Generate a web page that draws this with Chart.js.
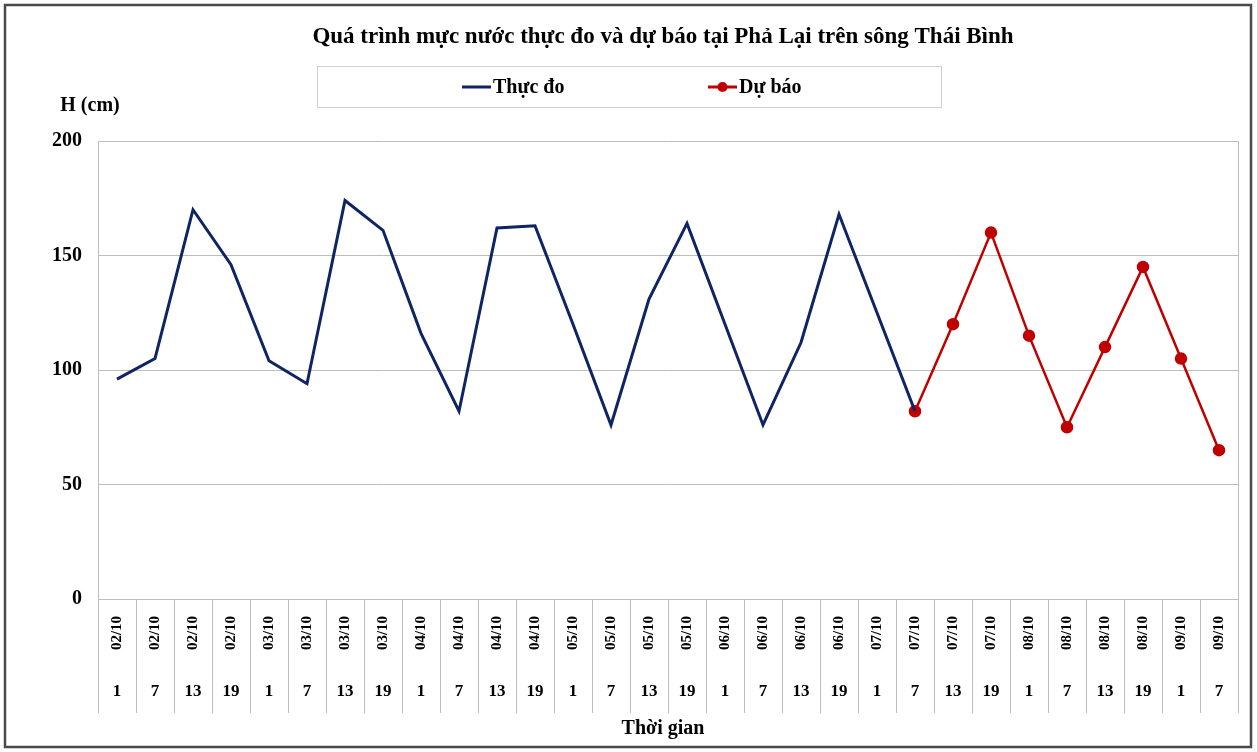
<!DOCTYPE html>
<html>
<head>
<meta charset="utf-8">
<script src="https://cdn.jsdelivr.net/npm/chart.js@4"></script>
<style>
  body { margin: 0; background: #fff; }
  canvas { display: block; }
</style>
</head>
<body>
<canvas id="chart" width="1257" height="752"></canvas>
<script>
// ========== DATA ==========
const dates = ['02/10','02/10','02/10','02/10','03/10','03/10','03/10','03/10',
               '04/10','04/10','04/10','04/10','05/10','05/10','05/10','05/10',
               '06/10','06/10','06/10','06/10','07/10','07/10','07/10','07/10',
               '08/10','08/10','08/10','08/10','09/10','09/10'];
const hours = ['1','7','13','19','1','7','13','19','1','7','13','19','1','7','13','19',
               '1','7','13','19','1','7','13','19','1','7','13','19','1','7'];
const thucDo = [96, 105, 170, 146, 104, 94, 174, 161, 116, 82, 162, 163,
                120, 76, 131, 164, 120, 76, 112, 168, 125, 82,
                null, null, null, null, null, null, null, null];
const duBao = [null, null, null, null, null, null, null, null, null, null, null,
               null, null, null, null, null, null, null, null, null, null,
               82, 120, 160, 115, 75, 110, 145, 105, 65];
const yTicks = [0, 50, 100, 150, 200];

const TITLE = 'Quá trình mực nước thực đo và dự báo tại Phả Lại trên sông Thái Bình';
const Y_TITLE = 'H (cm)';
const X_TITLE = 'Thời gian';

const SERIF = '"Liberation Serif", "Times New Roman", serif';
const NAVY = '#0f2463';
const RED = '#c00000';

// ========== PLUGIN: khung, tiêu đề, chú giải, nhãn trục X ==========
const decorPlugin = {
    id: 'decor',
    afterDraw(chart) {
        const ctx = chart.ctx;
        const area = chart.chartArea;
        const x = chart.scales.x;
        ctx.save();

        // khung ngoài
        ctx.strokeStyle = '#4a4a4a';
        ctx.lineWidth = 2.5;
        ctx.strokeRect(5, 5, 1246, 742);

        // viền phải vùng vẽ
        ctx.strokeStyle = '#bdbdbd';
        ctx.lineWidth = 1;
        ctx.beginPath();
        ctx.moveTo(area.right + 0.5, area.top);
        ctx.lineTo(area.right + 0.5, area.bottom);
        ctx.stroke();

        // tiêu đề
        ctx.fillStyle = '#000';
        ctx.textAlign = 'center';
        ctx.textBaseline = 'middle';
        ctx.font = 'bold 23px ' + SERIF;
        ctx.fillText(TITLE, 663, 37);

        // hộp chú giải
        ctx.strokeStyle = '#d0d0d0';
        ctx.lineWidth = 1;
        ctx.strokeRect(317.5, 66.5, 624, 41);
        ctx.font = 'bold 20px ' + SERIF;
        ctx.textAlign = 'left';
        const items = [
            { x: 462, ds: chart.data.datasets[0] },
            { x: 708, ds: chart.data.datasets[1] }
        ];
        items.forEach(it => {
            ctx.strokeStyle = it.ds.borderColor;
            ctx.lineWidth = 3;
            ctx.beginPath();
            ctx.moveTo(it.x, 87);
            ctx.lineTo(it.x + 29, 87);
            ctx.stroke();
            if (it.ds.pointRadius > 0) {
                ctx.fillStyle = it.ds.pointBackgroundColor;
                ctx.beginPath();
                ctx.arc(it.x + 14.5, 87, 5, 0, Math.PI * 2);
                ctx.fill();
            }
            ctx.fillStyle = '#000';
            ctx.fillText(it.ds.label, it.x + 31, 88);
        });

        // nhãn trục Y
        ctx.textAlign = 'center';
        ctx.font = 'bold 20px ' + SERIF;
        ctx.fillText(Y_TITLE, 90, 106);

        // nhãn trục X: ngày (xoay) và giờ
        dates.forEach((d, i) => {
            const px = x.getPixelForValue(i);
            ctx.save();
            ctx.font = 'bold 15px ' + SERIF;
            ctx.translate(px, 633);
            ctx.rotate(-Math.PI / 2);
            ctx.textAlign = 'center';
            ctx.textBaseline = 'middle';
            ctx.fillText(d, 0, 0);
            ctx.restore();
            ctx.font = 'bold 17px ' + SERIF;
            ctx.textAlign = 'center';
            ctx.fillText(hours[i], px, 692);
        });

        ctx.font = 'bold 20px ' + SERIF;
        ctx.fillText(X_TITLE, 663, 729);
        ctx.restore();
    }
};

// ========== CHART ==========
new Chart(document.getElementById('chart').getContext('2d'), {
    type: 'line',
    data: {
        labels: dates.map((d, i) => d + ' ' + hours[i]),
        datasets: [
            {
                label: 'Thực đo',
                data: thucDo,
                borderColor: NAVY,
                backgroundColor: NAVY,
                borderWidth: 3,
                pointRadius: 0,
                tension: 0,
                spanGaps: false
            },
            {
                label: 'Dự báo',
                data: duBao,
                borderColor: RED,
                backgroundColor: RED,
                pointBackgroundColor: RED,
                pointBorderColor: RED,
                borderWidth: 2.5,
                pointRadius: 5,
                tension: 0
            }
        ]
    },
    options: {
        responsive: false,
        animation: false,
        devicePixelRatio: 1,
        layout: { padding: { top: 141, left: 38, right: 19, bottom: 0 } },
        plugins: {
            legend: { display: false },
            title: { display: false },
            tooltip: { enabled: false }
        },
        scales: {
            x: {
                type: 'category',
                offset: true,
                grid: {
                    display: true,
                    offset: true,
                    drawOnChartArea: false,
                    drawTicks: true,
                    tickLength: 114,
                    color: '#bdbdbd'
                },
                border: { display: true, color: '#bdbdbd' },
                ticks: { display: false },
                afterFit: s => { s.height = 153; }
            },
            y: {
                min: 0,
                max: 200,
                afterBuildTicks: s => { s.ticks = yTicks.map(v => ({ value: v })); },
                grid: { color: '#bdbdbd', drawTicks: false },
                border: { display: true, color: '#bdbdbd' },
                ticks: {
                    color: '#000',
                    padding: 16,
                    font: { family: SERIF, size: 20, weight: 'bold' }
                },
                afterFit: s => { s.width = 60; }
            }
        }
    },
    plugins: [decorPlugin]
});
</script>
</body>
</html>
